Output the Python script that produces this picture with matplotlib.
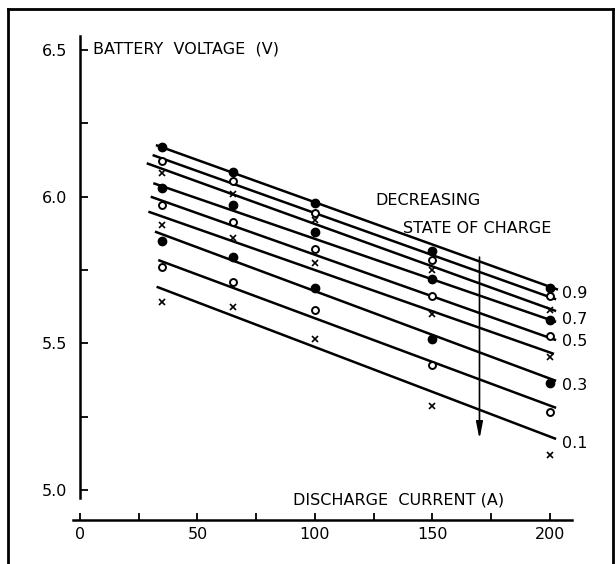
import matplotlib
matplotlib.use('Agg')
import matplotlib.pyplot as plt
from matplotlib import font_manager
from matplotlib.lines import Line2D

# corrente de descarga (A) onde foram medidos os pontos
correntes = [35, 65, 100, 150, 200]

# tensao medida por estado de carga (0.9 ... 0.1)
soc_09 = [6.17, 6.085, 5.98, 5.815, 5.69]
soc_08 = [6.12, 6.055, 5.945, 5.785, 5.66]
soc_07 = [6.08, 6.01, 5.92, 5.75, 5.615]
soc_06 = [6.03, 5.97, 5.88, 5.72, 5.58]
soc_05 = [5.97, 5.915, 5.82, 5.66, 5.525]
soc_04 = [5.905, 5.86, 5.775, 5.60, 5.455]
soc_03 = [5.85, 5.795, 5.69, 5.515, 5.365]
soc_02 = [5.76, 5.71, 5.615, 5.425, 5.265]
soc_01 = [5.64, 5.625, 5.515, 5.285, 5.12]
series = [soc_09, soc_08, soc_07, soc_06, soc_05, soc_04, soc_03, soc_02, soc_01]
marcadores = ['o', 'o', 'x', 'o', 'o', 'x', 'o', 'o', 'x']
cheio = [True, False, None, True, False, None, True, False, None]

# retas ajustadas (inicio / fim)
reta_i_ini = [32.3, 30.9, 28.4, 31.2, 30.1, 29.1, 31.9, 33.3, 32.6]
reta_v_ini = [6.176, 6.142, 6.114, 6.046, 6.000, 5.949, 5.881, 5.784, 5.693]
reta_i_fim = [203.4, 202.6, 202.6, 202.6, 202.6, 201.7, 202.6, 202.6, 202.6]
reta_v_fim = [5.683, 5.650, 5.610, 5.573, 5.511, 5.464, 5.372, 5.280, 5.174]

rotulos = ['0.9', '0.7', '0.5', '0.3', '0.1']
rotulos_v = [5.671, 5.582, 5.506, 5.355, 5.159]

y_ticks = [5.0, 5.25, 5.5, 5.75, 6.0, 6.25, 6.5]
y_labels = ['5.0', '', '5.5', '', '6.0', '', '6.5']
x_ticks = [0, 25, 50, 75, 100, 125, 150, 175, 200]
x_labels = ['0', '', '50', '', '100', '', '150', '', '200']

nomes = [f.name for f in font_manager.fontManager.ttflist]
fonte = 'Liberation Sans Narrow' if 'Liberation Sans Narrow' in nomes else 'DejaVu Sans'
plt.rcParams['font.family'] = [fonte, 'DejaVu Sans']
tam = 11.5

fig = plt.figure(figsize=(6.16, 5.64), dpi=100)
ax = fig.add_axes([0, 0, 1, 1])
ax.set_xlim(-34.04, 228.09)
ax.set_ylim(4.7477, 6.6706)
ax.patch.set_visible(False)

# eixos "soltos" como no desenho original
for lado in ['top', 'right']:
    ax.spines[lado].set_visible(False)
ax.spines['left'].set_position(('data', 0))
ax.spines['left'].set_bounds(4.973, 6.548)
ax.spines['bottom'].set_position(('data', 4.898))
ax.spines['bottom'].set_bounds(-3, 209.4)
ax.spines['left'].set_linewidth(1.8)
ax.spines['bottom'].set_linewidth(1.8)

ax.set_yticks(y_ticks)
ax.set_yticklabels(y_labels)
ax.set_xticks(x_ticks)
ax.set_xticklabels(x_labels)
ax.tick_params(axis='y', direction='in', length=6, width=1.3, pad=9, labelsize=tam)
ax.tick_params(axis='x', direction='in', length=5, width=1.3, pad=5, labelsize=tam)

for k in range(len(series)):
    ax.plot([reta_i_ini[k], reta_i_fim[k]], [reta_v_ini[k], reta_v_fim[k]],
            color='black', lw=1.8, solid_capstyle='butt')
    if marcadores[k] == 'x':
        ax.plot(correntes, series[k], 'x', color='black', ms=4, mew=1.2, ls='none')
    elif cheio[k]:
        ax.plot(correntes, series[k], 'o', color='black', ms=6, ls='none')
    else:
        ax.plot(correntes, series[k], 'o', mfc='white', mec='black', ms=5, mew=1.4, ls='none')

for r, v in zip(rotulos, rotulos_v):
    ax.text(205.1, v, r, fontsize=tam, va='center', ha='left')

ax.text(5.5, 6.504, 'BATTERY  VOLTAGE  (V)', fontsize=tam, va='center', ha='left')
ax.text(90.6, 4.966, 'DISCHARGE  CURRENT (A)', fontsize=tam, va='center', ha='left')
ax.text(125.5, 5.986, 'DECREASING', fontsize=tam, va='center', ha='left')
ax.text(137.4, 5.893, 'STATE OF CHARGE', fontsize=tam, va='center', ha='left')

# seta de estado de carga decrescente
ax.annotate('', xy=(170, 5.174), xytext=(170, 5.794),
            arrowprops=dict(arrowstyle='-|>,head_length=1.0,head_width=0.2',
                            color='black', lw=1.2, shrinkA=0, shrinkB=0))

# moldura da figura
for xs, ys in [([8 / 616, 8 / 616], [0, 1 - 9 / 564]),
               ([8 / 616, 613 / 616], [1 - 9 / 564, 1 - 9 / 564]),
               ([613 / 616, 613 / 616], [1 - 9 / 564, 0])]:
    fig.add_artist(Line2D(xs, ys, color='black', lw=2, transform=fig.transFigure))

plt.savefig('out.png', dpi=100)
